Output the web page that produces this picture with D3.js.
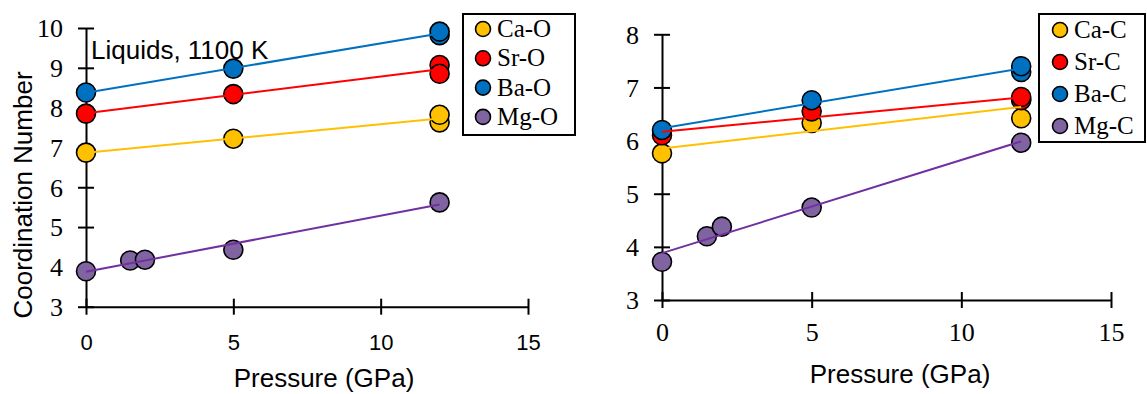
<!DOCTYPE html>
<html>
<head>
<meta charset="utf-8">
<script src="https://cdn.jsdelivr.net/npm/d3@7"></script>
<style>
  body { margin: 0; background: #fff; }
</style>
</head>
<body>
<div id="canvas"></div>
<script>
var width = 1147,
    height = 394;

// pressure (GPa), coordination number  -- left panel (cation-O)
var caO = [[0, 6.87], [5, 7.22], [12, 7.63], [12, 7.82]];
var srO = [[0, 7.85], [5, 8.34], [12, 9.07], [12, 8.85]];
var baO = [[0, 8.38], [5, 8.98], [12, 9.82], [12, 9.91]];
var mgO = [[0, 3.89], [1.5, 4.16], [2, 4.18], [5, 4.43], [12, 5.62]];

// right panel (cation-C)
var caC = [[0, 5.76], [5, 6.33], [12, 6.78], [12, 6.42]];
var srC = [[0, 6.10], [5, 6.55], [12, 6.76], [12, 6.82]];
var baC = [[0, 6.20], [5, 6.76], [12, 7.29], [12, 7.40]];
var mgC = [[0, 3.72], [1.5, 4.20], [2, 4.38], [5, 4.74], [12, 5.96]];

var namesO = ["Ca-O", "Sr-O", "Ba-O", "Mg-O"];
var namesC = ["Ca-C", "Sr-C", "Ba-C", "Mg-C"];
var xTicks = [0, 5, 10, 15];
var yTicksO = [3, 4, 5, 6, 7, 8, 9, 10];
var yTicksC = [3, 4, 5, 6, 7, 8];

var fills = ["#FFC000", "#FF0000", "#0070C0", "#8064A2"];
var lineCols = ["#FFC000", "#FF0000", "#0070C0", "#7030A0"];

var serif = "'Liberation Serif', 'Times New Roman', serif",
    sans = "'Liberation Sans', Arial, sans-serif";

var svg = d3.select("#canvas").append("svg")
    .attr("width", width)
    .attr("height", height);

svg.append("rect")
    .attr("width", width)
    .attr("height", height)
    .attr("fill", "#fff");

// least squares line through a series
function fit(pts) {
  var mx = d3.mean(pts, d => d[0]), my = d3.mean(pts, d => d[1]);
  var sxx = d3.sum(pts, d => (d[0] - mx) * (d[0] - mx));
  var sxy = d3.sum(pts, d => (d[0] - mx) * (d[1] - my));
  var b = sxy / sxx;
  return function(x) { return my + b * (x - mx); };
}

function drawPanel(opt) {
  var x = d3.scaleLinear().domain([0, 15]).range(opt.xr);
  var y = d3.scaleLinear().domain(opt.yd).range(opt.yr);
  var g = svg.append("g");

  // axes, ticks cross the line
  var yAx = g.append("g")
      .attr("transform", "translate(" + opt.xr[0] + ",0)")
      .call(d3.axisLeft(y).tickValues(opt.yTicks).tickFormat(d3.format("d"))
        .tickSize(8).tickSizeOuter(0).tickPadding(15));
  yAx.selectAll(".tick line").attr("x1", 8);
  yAx.selectAll(".tick text")
      .style("font-family", serif)
      .style("font-size", "26px")
      .attr("fill", "#000")
      .attr("dy", "0.34em");

  var xAx = g.append("g")
      .attr("transform", "translate(0," + opt.yr[0] + ")")
      .call(d3.axisBottom(x).tickValues(xTicks).tickFormat(d3.format("d"))
        .tickSize(8).tickSizeOuter(0));
  xAx.selectAll(".tick line").attr("y1", -8);
  xAx.selectAll(".tick text")
      .style("font-family", opt.xFont)
      .style("font-size", opt.xFontSize + "px")
      .attr("fill", "#000")
      .attr("dy", null)
      .attr("y", opt.xLabY);

  g.selectAll(".domain, .tick line")
      .attr("stroke", "#000")
      .attr("stroke-width", 2);

  // markers
  opt.series.forEach(function(s, i) {
    g.selectAll(null)
        .data(s).enter()
        .append("circle")
        .attr("cx", d => x(d[0]))
        .attr("cy", d => y(d[1]))
        .attr("r", 9.5)
        .attr("fill", fills[i])
        .attr("stroke", "#000")
        .attr("stroke-width", 1.6);
  });

  // linear trendlines, drawn over the markers
  opt.series.forEach(function(s, i) {
    var f = fit(s);
    var x0 = d3.min(s, d => d[0]), x1 = d3.max(s, d => d[0]);
    g.append("line")
        .attr("x1", x(x0)).attr("y1", y(f(x0)))
        .attr("x2", x(x1)).attr("y2", y(f(x1)))
        .attr("stroke", lineCols[i])
        .attr("stroke-width", 2);
  });

  g.append("text")
      .attr("x", opt.titleX)
      .attr("y", opt.titleY)
      .attr("text-anchor", "middle")
      .style("font-family", sans)
      .style("font-size", "26px")
      .text("Pressure (GPa)");

  // legend
  var lg = g.append("g");
  lg.append("rect")
      .attr("x", opt.leg.x).attr("y", opt.leg.y)
      .attr("width", opt.leg.w).attr("height", opt.leg.h)
      .attr("fill", "#fff")
      .attr("stroke", "#000")
      .attr("stroke-width", 2);
  opt.names.forEach(function(n, i) {
    var cy = opt.leg.y + opt.leg.first + i * opt.leg.step;
    lg.append("circle")
        .attr("cx", opt.leg.x + opt.leg.cx)
        .attr("cy", cy)
        .attr("r", 7.5)
        .attr("fill", fills[i])
        .attr("stroke", "#000")
        .attr("stroke-width", 1.6);
    lg.append("text")
        .attr("x", opt.leg.x + opt.leg.cx + 14)
        .attr("y", cy + 8)
        .style("font-family", serif)
        .style("font-size", "25px")
        .text(n);
  });
}

drawPanel({
  xr: [86, 528], yd: [3, 10], yr: [306.7, 28],
  yTicks: yTicksO,
  xFont: sans, xFontSize: 22, xLabY: 43,
  series: [caO, srO, baO, mgO],
  names: namesO,
  titleX: 324, titleY: 387,
  leg: { x: 463, y: 14, w: 112, h: 121, cx: 20, first: 15, step: 29.3 }
});

drawPanel({
  xr: [662, 1111], yd: [3, 8], yr: [300, 34.3],
  yTicks: yTicksC,
  xFont: serif, xFontSize: 26, xLabY: 41,
  series: [caC, srC, baC, mgC],
  names: namesC,
  titleX: 900, titleY: 383,
  leg: { x: 1039, y: 14, w: 106, h: 128, cx: 21, first: 16, step: 32 }
});

svg.append("text")
    .attr("transform", "translate(32,195) rotate(-90)")
    .attr("text-anchor", "middle")
    .style("font-family", sans)
    .style("font-size", "26px")
    .text("Coordination Number");

svg.append("text")
    .attr("x", 91)
    .attr("y", 59)
    .style("font-family", sans)
    .style("font-size", "26px")
    .text("Liquids, 1100 K");
</script>
</body>
</html>
